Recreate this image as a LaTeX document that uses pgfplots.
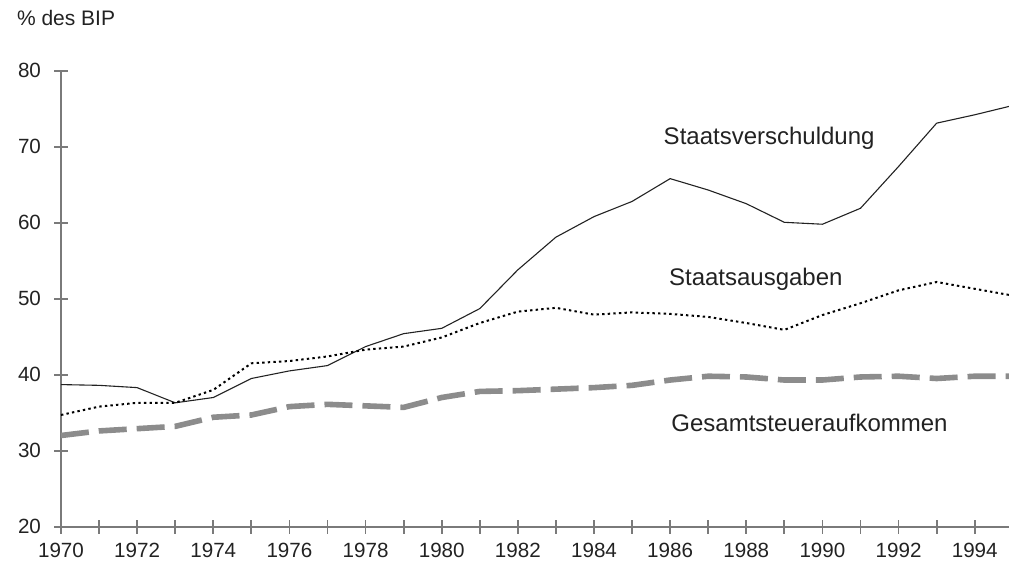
\documentclass[border=0pt]{standalone}
\usepackage{fontspec}
\setmainfont{Liberation Sans}
\usepackage{pgfplots}
\pgfplotsset{compat=1.18}
\definecolor{axgray}{HTML}{7A7A7A}
\definecolor{txt}{HTML}{222222}
\definecolor{taxgray}{HTML}{8C8C8C}
\begin{document}
\begin{tikzpicture}
\begin{axis}[
  scale only axis,
  width=474pt, height=228pt,
  xmin=1970, xmax=1994.9,
  ymin=20, ymax=80,
  axis x line=bottom, axis y line=left,
  x axis line style={-, draw=axgray, line width=1pt},
  y axis line style={-, draw=axgray, line width=1pt},
  xtick={1970,1972,...,1994},
  minor xtick={1971,1973,...,1993},
  ytick={20,30,...,80},
  xticklabel style={/pgf/number format/1000 sep={}},
  /pgf/number format/assume math mode=true,
  tick label style={font=\fontsize{10.3}{12}\selectfont, text=txt},
  tick align=center,
  major tick length=7pt, minor tick length=7pt,
  tick style={draw=axgray, line width=0.9pt},
  xticklabel shift=1pt,
  yticklabel shift=3pt,
  clip=false,
]
\addplot[color=txt, line width=0.55pt] coordinates {
(1970,38.7)(1971,38.6)(1972,38.3)(1973,36.3)(1974,37.0)(1975,39.5)(1976,40.5)(1977,41.2)(1978,43.7)(1979,45.4)(1980,46.1)(1981,48.7)(1982,53.8)(1983,58.1)(1984,60.8)(1985,62.8)(1986,65.8)(1987,64.3)(1988,62.5)(1989,60.05)(1990,59.8)(1991,61.9)(1992,67.4)(1993,73.1)(1994,74.2)(1994.9,75.3)
};
\addplot[color=black, line width=1pt, dash pattern=on 1.2pt off 1.6pt] coordinates {
(1970,34.7)(1971,35.8)(1972,36.3)(1973,36.3)(1974,38.0)(1975,41.5)(1976,41.8)(1977,42.4)(1978,43.3)(1979,43.7)(1980,44.9)(1981,46.8)(1982,48.3)(1983,48.8)(1984,47.9)(1985,48.2)(1986,48.0)(1987,47.6)(1988,46.8)(1989,45.9)(1990,47.85)(1991,49.4)(1992,51.1)(1993,52.2)(1994,51.3)(1994.9,50.5)
};
\addplot[color=taxgray, line width=2.8pt, dash pattern=on 14pt off 5pt] coordinates {
(1970,32.0)(1971,32.6)(1972,32.9)(1973,33.2)(1974,34.4)(1975,34.7)(1976,35.8)(1977,36.1)(1978,35.9)(1979,35.7)(1980,37.0)(1981,37.8)(1982,37.9)(1983,38.1)(1984,38.3)(1985,38.6)(1986,39.3)(1987,39.8)(1988,39.7)(1989,39.3)(1990,39.3)(1991,39.7)(1992,39.8)(1993,39.5)(1994,39.8)(1994.9,39.8)
};
\node[font=\fontsize{12}{14}\selectfont, text=txt] at (axis cs:1988.6,71.1) {Staatsverschuldung};
\node[font=\fontsize{12}{14}\selectfont, text=txt] at (axis cs:1988.25,52.5) {Staatsausgaben};
\node[font=\fontsize{12}{14}\selectfont, text=txt] at (axis cs:1989.66,33.7) {Gesamtsteueraufkommen};
\node[font=\fontsize{10.5}{12}\selectfont, text=txt, anchor=west] at (axis cs:1968.66,86.9) {\% des BIP};
\coordinate (O) at (rel axis cs:0,0);
\end{axis}
\pgfresetboundingbox
\path ([shift={(-30.5pt,-23.65pt)}]O) rectangle ([shift={(474pt,263.35pt)}]O);
\end{tikzpicture}
\end{document}
